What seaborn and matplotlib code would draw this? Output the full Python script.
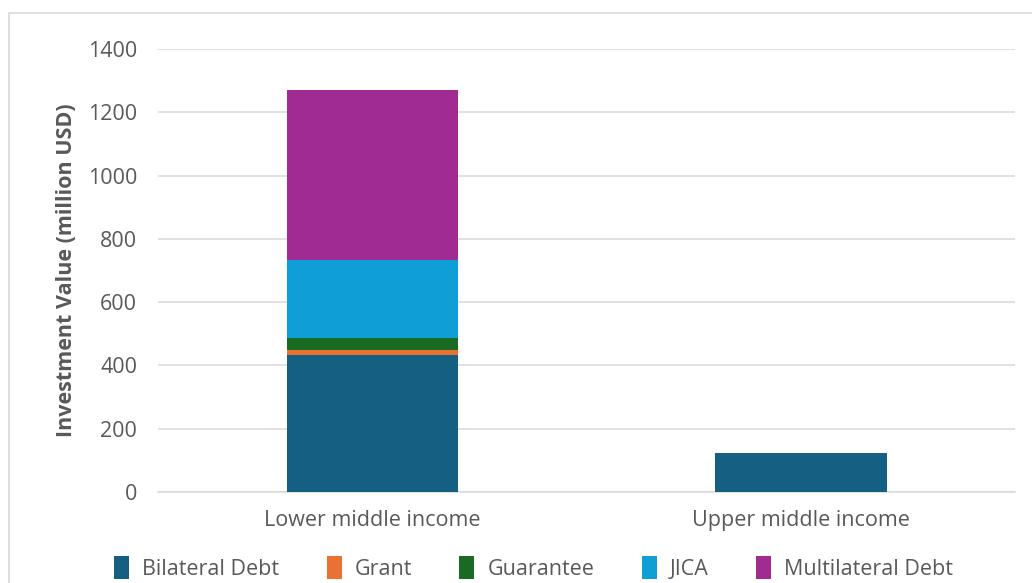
import numpy as np
import pandas as pd
import matplotlib
matplotlib.use("Agg")
import matplotlib.pyplot as plt
from matplotlib.patches import Rectangle
import seaborn as sns

categories = ["Lower middle income", "Upper middle income"]
bilateral_debt = [433, 124]
grant = [16, 0]
guarantee = [38, 0]
jica = [246, 0]
multilateral_debt = [537, 0]

series_names = ["Bilateral Debt", "Grant", "Guarantee", "JICA", "Multilateral Debt"]
series_values = [bilateral_debt, grant, guarantee, jica, multilateral_debt]
colors = ["#156082", "#E97132", "#196B24", "#0F9ED5", "#A02B93"]

sns.set_theme(style="white")
plt.rcParams["font.family"] = ["Open Sans", "DejaVu Sans"]
text_color = "#595959"

fig = plt.figure(figsize=(10.32, 5.83), dpi=100)
ax = fig.add_axes([0.153, 0.156, 0.831, 0.76])

# outer chart frame
fig.patches.append(Rectangle((9 / 1032, -0.05), 1.1, 1 - 13 / 583 + 0.05,
                             transform=fig.transFigure, fill=False,
                             edgecolor="#D9D9D9", linewidth=1.2, zorder=0))

bottom = np.zeros(len(categories))
for name, vals, col in zip(series_names, series_values, colors):
    df = pd.DataFrame({"category": categories, "value": vals})
    sns.barplot(data=df, x="category", y="value", color=col, bottom=bottom,
                width=0.4, ax=ax, label=name, saturation=1, linewidth=0,
                zorder=3)
    bottom = bottom + np.array(vals)

ax.set_xlim(-0.5, 1.5)
ax.set_ylim(0, 1400)
ax.set_yticks(range(0, 1401, 200))
ax.yaxis.grid(True, color="#D9D9D9", linewidth=1.1, zorder=0)
ax.set_axisbelow(True)
for s in ["top", "right", "left"]:
    ax.spines[s].set_visible(False)
ax.spines["bottom"].set_color("#D9D9D9")
ax.spines["bottom"].set_linewidth(1.1)
ax.tick_params(axis="both", length=0, labelsize=15.5, labelcolor=text_color)
ax.tick_params(axis="y", pad=15)
ax.tick_params(axis="x", pad=13)
ax.set_xlabel("")
ax.set_ylabel("Investment Value (million USD)", fontsize=15.5, fontweight="bold",
              color=text_color, labelpad=8)

handles, labels = ax.get_legend_handles_labels()
leg = ax.legend(handles, labels, loc="upper center", bbox_to_anchor=(0.438, -0.1),
                ncol=5, frameon=False, fontsize=15.5, handlelength=0.7,
                handleheight=1.3, handletextpad=0.6, columnspacing=2.2)
for t in leg.get_texts():
    t.set_color(text_color)

fig.savefig("out.png", dpi=100)
